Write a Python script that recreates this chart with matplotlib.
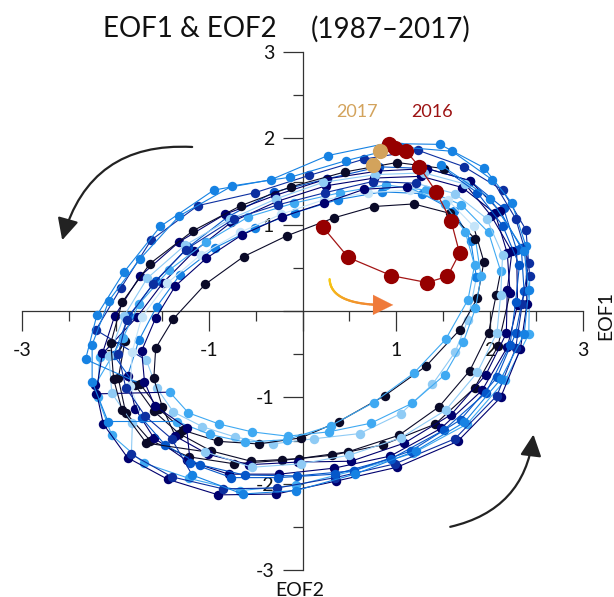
import matplotlib
matplotlib.use('Agg')
import numpy as np
import matplotlib.pyplot as plt
from matplotlib.patches import FancyArrowPatch
from matplotlib.collections import LineCollection
from matplotlib.ticker import FixedLocator, FuncFormatter
from matplotlib.colors import to_rgb

plt.rcParams['font.family'] = ['Lato', 'DejaVu Sans']

# ---------------- data (monthly EOF1 / EOF2 amplitudes, one row per year) ----------------
years = list(range(1987, 2016))

eof1 = [
    [-1.90, -1.97, -1.89, -1.63, -1.21, -0.73, -0.22, 0.32, 0.86, 1.42, 1.84, 2.09],   # 1987
    [2.22, 2.19, 2.06, 1.71, 1.27, 0.77, 0.25, -0.27, -0.76, -1.16, -1.49, -1.77],     # 1988
    [-2.17, -2.19, -2.04, -1.70, -1.21, -0.67, -0.07, 0.55, 1.18, 1.76, 2.17, 2.42],   # 1989
    [2.43, 2.39, 2.14, 1.73, 1.24, 0.66, 0.07, -0.51, -1.12, -1.62, -1.94, -2.21],     # 1990
    [-1.67, -1.56, -1.38, -1.07, -0.72, -0.32, 0.12, 0.61, 1.05, 1.39, 1.63, 1.77],    # 1991
    [1.86, 1.80, 1.62, 1.28, 0.85, 0.38, -0.08, -0.51, -0.94, -1.31, -1.56, -1.75],    # 1992
    [-1.87, -1.79, -1.59, -1.24, -0.79, -0.25, 0.34, 0.94, 1.48, 1.92, 2.19, 2.30],    # 1993
    [2.29, 2.15, 1.79, 1.33, 0.82, 0.26, -0.30, -0.80, -1.22, -1.57, -1.86, -2.02],    # 1994
    [-1.79, -1.59, -1.32, -0.98, -0.55, -0.04, 0.49, 1.03, 1.46, 1.79, 1.99, 2.07],    # 1995
    [2.12, 1.99, 1.70, 1.32, 0.89, 0.40, -0.09, -0.58, -1.03, -1.43, -1.75, -1.92],    # 1996
    [-2.22, -2.13, -1.87, -1.44, -0.90, -0.28, 0.36, 1.01, 1.66, 2.12, 2.33, 2.40],    # 1997
    [2.39, 2.24, 1.94, 1.47, 0.89, 0.27, -0.34, -0.95, -1.52, -1.91, -2.20, -2.32],    # 1998
    [-1.74, -1.54, -1.28, -0.90, -0.47, -0.02, 0.39, 0.88, 1.32, 1.68, 1.87, 1.94],    # 1999
    [1.83, 1.56, 1.15, 0.70, 0.23, -0.23, -0.67, -1.09, -1.45, -1.72, -1.82, -1.84],   # 2000
    [-1.72, -1.47, -1.10, -0.62, -0.06, 0.55, 1.16, 1.69, 2.08, 2.28, 2.37, 2.34],     # 2001
    [2.11, 1.79, 1.33, 0.80, 0.26, -0.29, -0.83, -1.32, -1.74, -2.01, -2.14, -2.21],   # 2002
    [-1.42, -1.22, -0.89, -0.54, -0.16, 0.28, 0.73, 1.17, 1.52, 1.72, 1.85, 1.91],     # 2003
    [1.85, 1.58, 1.19, 0.76, 0.34, -0.17, -0.63, -1.04, -1.38, -1.57, -1.59, -1.50],   # 2004
    [-1.36, -1.01, -0.57, -0.05, 0.52, 1.09, 1.59, 1.96, 2.18, 2.19, 2.24, 2.02],      # 2005
    [1.74, 1.30, 0.78, 0.22, -0.28, -0.78, -1.26, -1.66, -1.91, -2.07, -2.04, -1.82],  # 2006
    [-1.83, -1.40, -0.85, -0.27, 0.35, 0.99, 1.63, 2.08, 2.28, 2.35, 2.42, 2.28],      # 2007
    [2.03, 1.60, 1.05, 0.46, -0.13, -0.75, -1.32, -1.74, -2.07, -2.25, -2.25, -2.08],  # 2008
    [-1.34, -0.99, -0.61, -0.17, 0.30, 0.76, 1.19, 1.53, 1.77, 1.84, 1.74, 1.52],      # 2009
    [1.12, 0.66, 0.23, -0.22, -0.65, -1.03, -1.36, -1.57, -1.72, -1.69, -1.58, -1.24], # 2010
    [-1.20, -0.76, -0.26, 0.35, 0.95, 1.51, 1.96, 2.22, 2.28, 2.32, 2.14, 1.87],       # 2011
    [1.51, 1.01, 0.45, -0.12, -0.66, -1.17, -1.63, -1.93, -2.05, -2.02, -1.93, -1.67], # 2012
    [-1.04, -0.54, -0.02, 0.50, 1.05, 1.53, 1.87, 2.08, 2.12, 2.14, 1.97, 1.63],       # 2013
    [1.21, 0.75, 0.24, -0.26, -0.73, -1.25, -1.60, -1.88, -1.97, -1.89, -1.68, -1.40], # 2014
    [-1.18, -0.64, -0.07, 0.56, 1.21, 1.73, 2.12, 2.37, 2.42, 2.37, 2.01, 1.48],       # 2015
]

eof2 = [
    [-0.35, -0.78, -1.18, -1.50, -1.69, -1.77, -1.73, -1.67, -1.55, -1.31, -0.89, -0.41],  # 1987
    [0.21, 0.67, 1.13, 1.43, 1.56, 1.54, 1.45, 1.27, 1.03, 0.69, 0.33, -0.07],             # 1988
    [-0.53, -1.00, -1.44, -1.76, -1.94, -2.08, -2.02, -1.85, -1.65, -1.31, -0.80, -0.27],  # 1989
    [0.40, 0.94, 1.40, 1.67, 1.86, 1.76, 1.57, 1.37, 1.22, 0.82, 0.27, -0.22],             # 1990
    [-0.57, -0.89, -1.17, -1.34, -1.46, -1.54, -1.48, -1.42, -1.19, -0.85, -0.48, -0.10],  # 1991
    [0.39, 0.81, 1.16, 1.36, 1.38, 1.29, 1.14, 0.96, 0.73, 0.42, 0.05, -0.34],             # 1992
    [-0.75, -1.13, -1.47, -1.73, -1.89, -1.89, -1.82, -1.68, -1.36, -0.92, -0.42, 0.07],   # 1993
    [0.71, 1.19, 1.51, 1.65, 1.67, 1.53, 1.38, 1.09, 0.74, 0.35, -0.06, -0.51],            # 1994
    [-0.86, -1.16, -1.42, -1.62, -1.74, -1.71, -1.63, -1.44, -1.11, -0.69, -0.25, 0.18],   # 1995
    [0.46, 0.91, 1.23, 1.40, 1.46, 1.37, 1.25, 1.09, 0.80, 0.47, 0.08, -0.31],             # 1996
    [-0.86, -1.31, -1.70, -1.95, -2.13, -2.12, -1.97, -1.81, -1.51, -1.00, -0.44, 0.08],   # 1997
    [0.75, 1.25, 1.66, 1.93, 1.94, 1.80, 1.52, 1.40, 0.98, 0.45, -0.05, -0.56],            # 1998
    [-0.84, -1.13, -1.38, -1.51, -1.54, -1.47, -1.28, -0.98, -0.64, -0.22, 0.15, 0.57],    # 1999
    [0.98, 1.28, 1.40, 1.37, 1.29, 1.12, 0.91, 0.65, 0.32, -0.07, -0.47, -0.87],           # 2000
    [-1.24, -1.55, -1.78, -1.90, -1.91, -1.85, -1.62, -1.26, -0.77, -0.26, 0.23, 0.73],    # 2001
    [1.16, 1.51, 1.65, 1.62, 1.53, 1.34, 1.12, 0.80, 0.40, -0.06, -0.49, -0.96],           # 2002
    [-0.94, -1.18, -1.31, -1.40, -1.45, -1.40, -1.30, -1.07, -0.74, -0.36, 0.03, 0.40],    # 2003
    [0.83, 1.13, 1.24, 1.21, 1.08, 0.87, 0.63, 0.31, -0.09, -0.43, -0.78, -1.11],          # 2004
    [-1.45, -1.66, -1.78, -1.75, -1.74, -1.53, -1.20, -0.74, -0.26, 0.24, 0.69, 1.10],     # 2005
    [1.47, 1.60, 1.58, 1.49, 1.30, 1.06, 0.76, 0.38, -0.06, -0.52, -0.95, -1.30],          # 2006
    [-1.66, -1.92, -2.06, -2.05, -1.93, -1.77, -1.48, -0.98, -0.43, 0.08, 0.56, 1.07],     # 2007
    [1.52, 1.85, 1.90, 1.74, 1.55, 1.45, 1.10, 0.60, 0.12, -0.39, -0.82, -1.28],           # 2008
    [-1.28, -1.43, -1.52, -1.49, -1.33, -1.06, -0.72, -0.33, 0.13, 0.53, 0.92, 1.24],      # 2009
    [1.44, 1.41, 1.25, 1.09, 0.88, 0.61, 0.29, -0.08, -0.46, -0.82, -1.10, -1.35],         # 2010
    [-1.76, -1.93, -1.93, -1.89, -1.71, -1.38, -0.95, -0.39, 0.11, 0.53, 0.99, 1.37],      # 2011
    [1.65, 1.72, 1.61, 1.44, 1.22, 0.93, 0.55, 0.10, -0.37, -0.79, -1.15, -1.53],          # 2012
    [-1.63, -1.81, -1.77, -1.67, -1.47, -1.15, -0.71, -0.25, 0.19, 0.65, 1.07, 1.36],      # 2013
    [1.48, 1.50, 1.37, 1.23, 1.07, 0.71, 0.31, -0.10, -0.50, -0.89, -1.22, -1.48],         # 2014
    [-1.90, -2.12, -2.08, -1.89, -1.62, -1.29, -0.79, -0.27, 0.24, 0.70, 1.30, 1.69],      # 2015
]

eof1_2016 = [0.22, 0.49, 0.95, 1.33, 1.55, 1.68, 1.59, 1.43, 1.25, 1.11, 0.99, 0.92]
eof2_2016 = [0.97, 0.62, 0.41, 0.33, 0.40, 0.67, 1.04, 1.38, 1.67, 1.85, 1.89, 1.93]
eof1_2017 = [0.83, 0.75]
eof2_2017 = [1.85, 1.69]

K, N, D, R = '#0a0a28', '#00006e', '#0c2fa0', '#0557c9'
M, S, L, V = '#1682e3', '#3fa9f2', '#8fcbf5', '#c4e4f9'
year_colors = [K, N, S, D, L, M, N, R, K, S, N, M, K, V, R,
               N, S, K, N, L, D, M, S, N, R, K, L, D, M]

ticks = [-3, -2, -1, 0, 1, 2, 3]
minor_ticks = [-2.5, -1.5, -0.5, 0.5, 1.5, 2.5]

# ---------------- figure ----------------
fig = plt.figure(figsize=(6.14, 5.97), dpi=100)
ax = fig.add_axes([22 / 614, 27 / 597, 561 / 614, 518 / 597])
ax.set_xlim(-3, 3)
ax.set_ylim(-3, 3)

for name in ['top', 'right']:
    ax.spines[name].set_visible(False)
ax.spines['left'].set_position(('data', 0))
ax.spines['bottom'].set_position(('data', 0))
for name in ['left', 'bottom']:
    ax.spines[name].set_linewidth(0.9)
    ax.spines[name].set_color('#333333')
    ax.spines[name].set_zorder(0.6)
ax.set_axisbelow(True)

fmt = FuncFormatter(lambda v, p: '' if abs(v) < 1e-9 else '%d' % v)
for axis in (ax.xaxis, ax.yaxis):
    axis.set_major_locator(FixedLocator(ticks))
    axis.set_minor_locator(FixedLocator(minor_ticks))
    axis.set_major_formatter(fmt)
ax.tick_params(which='major', direction='out', length=14.4, width=0.9,
               color='#333333', labelsize=14, labelcolor='#111111')
ax.tick_params(which='minor', direction='out', length=7.2, width=0.9, color='#333333')
ax.tick_params(axis='x', which='major', pad=8)
ax.tick_params(axis='y', which='major', pad=6)

# yearly trajectories
z = 3
for i, yr in enumerate(years):
    xs = list(eof1[i])
    ys = list(eof2[i])
    if i + 1 < len(years):
        xs_line = xs + [eof1[i + 1][0]]
        ys_line = ys + [eof2[i + 1][0]]
    else:
        xs_line, ys_line = xs, ys
    c = year_colors[i]
    ax.plot(xs_line, ys_line, '-', color=c, lw=0.8, zorder=z)
    ax.plot(xs, ys, 'o', color=c, ms=6.8, mec='none', zorder=z + 0.1)
    z += 0.2

ax.plot(eof1_2016, eof2_2016, '-', color='#a31515', lw=0.9, zorder=z)
ax.plot(eof1_2016, eof2_2016, 'o', color='#960000', ms=11, mec='none', zorder=z + 0.1)
ax.plot(eof1_2017, eof2_2017, '-', color='#d3a35c', lw=0.9, zorder=z + 0.2)
ax.plot(eof1_2017, eof2_2017, 'o', color='#d3a35c', ms=11, mec='none', zorder=z + 0.3)

ax.text(0.58, 2.3, '2017', color='#d3a35c', fontsize=13, ha='center', va='center')
ax.text(1.38, 2.3, '2016', color='#9c1212', fontsize=13, ha='center', va='center')

# rotation arrows
for p0, p1, rad in [((-1.18, 1.9), (-2.57, 0.82), 0.4), ((1.58, -2.5), (2.47, -1.43), 0.35)]:
    arr = FancyArrowPatch(p0, p1, connectionstyle='arc3,rad=%s' % rad,
                          arrowstyle='-|>,head_length=0.55,head_width=0.27',
                          mutation_scale=24, color='#222222', lw=1.6,
                          shrinkA=0, shrinkB=0, zorder=10)
    ax.add_patch(arr)

# orange gradient arrow
P0 = np.array([0.29, 0.37])
C = np.array([0.30, 0.06])
P2 = np.array([0.93, 0.07])
t = np.linspace(0, 1, 60)[:, None]
curve = (1 - t) ** 2 * P0 + 2 * (1 - t) * t * C + t ** 2 * P2
segs = np.stack([curve[:-1], curve[1:]], axis=1)
c0 = np.array(to_rgb('#f7cc10'))
c1 = np.array(to_rgb('#ef7a3a'))
cols = [tuple(c0 + (c1 - c0) * f) for f in np.linspace(0, 1, len(segs))]
ax.add_collection(LineCollection(segs, colors=cols, linewidths=1.6, zorder=10, capstyle='round'))
head = FancyArrowPatch(tuple(curve[-6]), (0.97, 0.07),
                       arrowstyle='-|>,head_length=0.6,head_width=0.3',
                       mutation_scale=24, color='#ef7a3a', lw=0.1,
                       shrinkA=0, shrinkB=0, zorder=10)
ax.add_patch(head)

# titles / axis names
fig.text(103 / 614, 1 - 29 / 597, 'EOF1 & EOF2', fontsize=20, ha='left', va='center', color='#111111')
fig.text(311 / 614, 1 - 29 / 597, '(1987\u20132017)', fontsize=20, ha='left', va='center', color='#111111')
fig.text(606 / 614, 1 - 316 / 597, 'EOF1', fontsize=14, rotation=90, ha='center', va='center', color='#111111')
fig.text(300 / 614, 1 - 590 / 597, 'EOF2', fontsize=14, ha='center', va='center', color='#111111')

fig.savefig('out.png', dpi=100)
